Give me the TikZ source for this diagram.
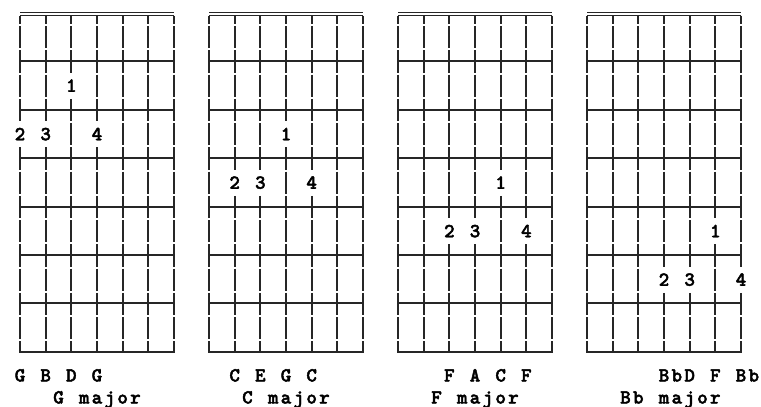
\documentclass[tikz,border=0pt]{standalone}
\usepackage{fontspec}
\newfontfamily\cour{lmmonolt10-bold.otf}[FakeBold=2.2]
\newlength\cw \setlength\cw{12.833pt}
\makeatletter
\def\mono#1{\mono@a#1\relax}
\def\mono@a#1{\ifx\relax#1\else\makebox[\cw]{\ifx.#1\else#1\fi}\expandafter\mono@a\fi}
\def\emono#1{\expandafter\mono\expandafter{#1}}
\makeatother
\begin{document}
\begin{tikzpicture}[x=1pt,y=-1pt,
  vstr/.style={line width=1.8pt, draw=black!85},
  fret/.style={line width=1.8pt, draw=black!85},
  nut/.style={line width=1.1pt, draw=black!85},
  txt/.style={inner sep=0pt, outer sep=0pt, font=\cour\fontsize{20}{20}\selectfont},
  lbl/.style={txt, anchor=base west},
  fing/.style={txt, anchor=base}]
\useasboundingbox (0,0) rectangle (761,407);
\foreach \d/\X/\notes/\name in {0/20/G.B.D.G/G.major, 1/209/C.E.G.C/C.major, 2/398/F.A.C.F/F.major, 3/587/BbD.F.Bb/Bb.major} {
  % nut (double line)
  \draw[nut] (\X,12.5) -- ++(154,0);
  \draw[nut] (\X,15.5) -- ++(154,0);
  % frets
  \foreach \fy in {61,110,158,207,255,303,352} {
    \draw[fret] (\X,\fy) -- ++(154,0);
  }
  % strings, row by row, leaving room for finger numbers
  \foreach \s in {0,...,6} {
    \foreach \k in {0,...,14} {
      \pgfmathtruncatemacro\skp{((\k==3+2*\d) && (\s==2+\d)) || ((\k==5+2*\d) && ((\s==\d) || (\s==\d+1) || (\s==\d+3)))}
      \ifnum\skp=0
        \pgfmathsetmacro\ya{ifthenelse(\k==0,15.5,13+24.25*\k-11.1)}
        \pgfmathsetmacro\yb{ifthenelse(\k==14,352.5,13+24.25*\k+11.1)}
        \draw[vstr] (\X+25.667*\s,\ya) -- (\X+25.667*\s,\yb);
      \fi
    }
  }
  % finger numbers
  \node[fing] (f\d a) at (\X+25.667*\d+51.333, 13+24.25*3+48.5*\d+6) {1};
  \node[fing] (f\d b) at (\X+25.667*\d, 13+24.25*5+48.5*\d+6) {2};
  \node[fing] (f\d c) at (\X+25.667*\d+25.667, 13+24.25*5+48.5*\d+6) {3};
  \node[fing] (f\d d) at (\X+25.667*\d+77, 13+24.25*5+48.5*\d+6) {4};
  % chord notes and name
  \node[lbl] (n\d) at (\X+25.667*\d-6.417, 381.5) {\emono{\notes}};
  \node[lbl] (m\d) at (\X+38.5-6.417, 403.5) {\emono{\name}};
}
\end{tikzpicture}
\end{document}
